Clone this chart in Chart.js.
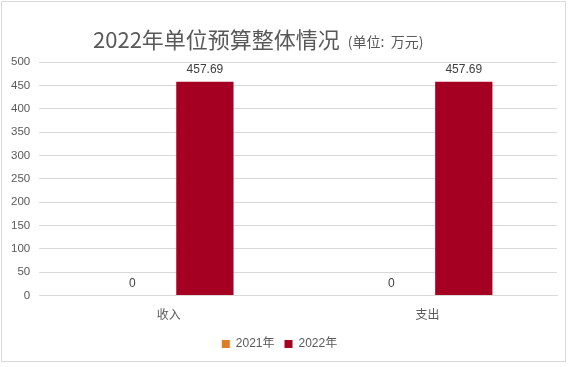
<!DOCTYPE html>
<html>
<head>
<meta charset="utf-8">
<script src="https://cdn.jsdelivr.net/npm/chart.js@4"></script>
<style>
  body { margin: 0; background: #fff; }
  #wrap { position: absolute; left: 1px; top: 1px; width: 565px; height: 361px; border: 1px solid #d9d9d9; box-sizing: border-box; }
  canvas { position: absolute; left: 0; top: 0; }
</style>
</head>
<body>
<div id="wrap"><canvas id="budgetChart" width="576" height="367"></canvas></div>
<script>
const categories = ['收入', '支出'];
const seriesNames = ['2021年', '2022年'];
const values2021 = [0, 0];
const values2022 = [457.69, 457.69];
const yTicks = [0, 50, 100, 150, 200, 250, 300, 350, 400, 450, 500];

const fontStack = '"Liberation Sans", "Noto Sans CJK SC", sans-serif';
const textColor = '#595959';

// title with a smaller unit note after it
const titlePlugin = {
    id: 'titlePlugin',
    afterDraw(chart) {
        const ctx = chart.ctx;
        ctx.save();
        ctx.fillStyle = textColor;
        ctx.textBaseline = 'alphabetic';
        ctx.textAlign = 'left';
        ctx.font = '22px "Noto Sans CJK SC", sans-serif';
        const main = '2022年单位预算整体情况';
        ctx.fillText(main, 91, 46);
        const w = ctx.measureText(main).width;
        ctx.font = '14px "Noto Sans CJK SC", sans-serif';
        ctx.fillText('(单位:  万元)', 91 + w + 8, 45);
        ctx.restore();
    }
};

// value labels above each bar
const labelPlugin = {
    id: 'labelPlugin',
    afterDatasetsDraw(chart) {
        const ctx = chart.ctx;
        ctx.save();
        ctx.fillStyle = '#404040';
        ctx.font = '12px ' + fontStack;
        ctx.textAlign = 'center';
        ctx.textBaseline = 'bottom';
        chart.data.datasets.forEach((ds, i) => {
            chart.getDatasetMeta(i).data.forEach((bar, j) => {
                ctx.fillText(String(ds.data[j]), bar.x, bar.y - 6);
            });
        });
        ctx.restore();
    }
};

const ctx = document.getElementById('budgetChart').getContext('2d');
new Chart(ctx, {
    type: 'bar',
    data: {
        labels: categories,
        datasets: [{
            label: seriesNames[0],
            data: values2021,
            backgroundColor: '#e07b2a',
            categoryPercentage: 0.56,
            barPercentage: 0.79
        }, {
            label: seriesNames[1],
            data: values2022,
            backgroundColor: '#a50021',
            categoryPercentage: 0.56,
            barPercentage: 0.79
        }]
    },
    options: {
        responsive: false,
        animation: false,
        layout: { padding: { left: 0, right: 21, top: 60, bottom: 9 } },
        plugins: {
            legend: {
                position: 'bottom',
                labels: {
                    boxWidth: 8,
                    boxHeight: 8,
                    padding: 10,
                    color: textColor,
                    font: { family: fontStack, size: 12 }
                }
            },
            tooltip: { enabled: false }
        },
        scales: {
            x: {
                grid: { display: false },
                border: { color: '#d9d9d9' },
                ticks: { color: textColor, font: { family: fontStack, size: 12 }, padding: 5 }
            },
            y: {
                min: 0,
                max: 500,
                afterBuildTicks: axis => { axis.ticks = yTicks.map(v => ({ value: v })); },
                grid: { color: '#d9d9d9', drawTicks: false },
                border: { display: false },
                ticks: { color: textColor, font: { family: fontStack, size: 11.5 }, padding: 9 }
            }
        }
    },
    plugins: [titlePlugin, labelPlugin]
});
</script>
</body>
</html>
